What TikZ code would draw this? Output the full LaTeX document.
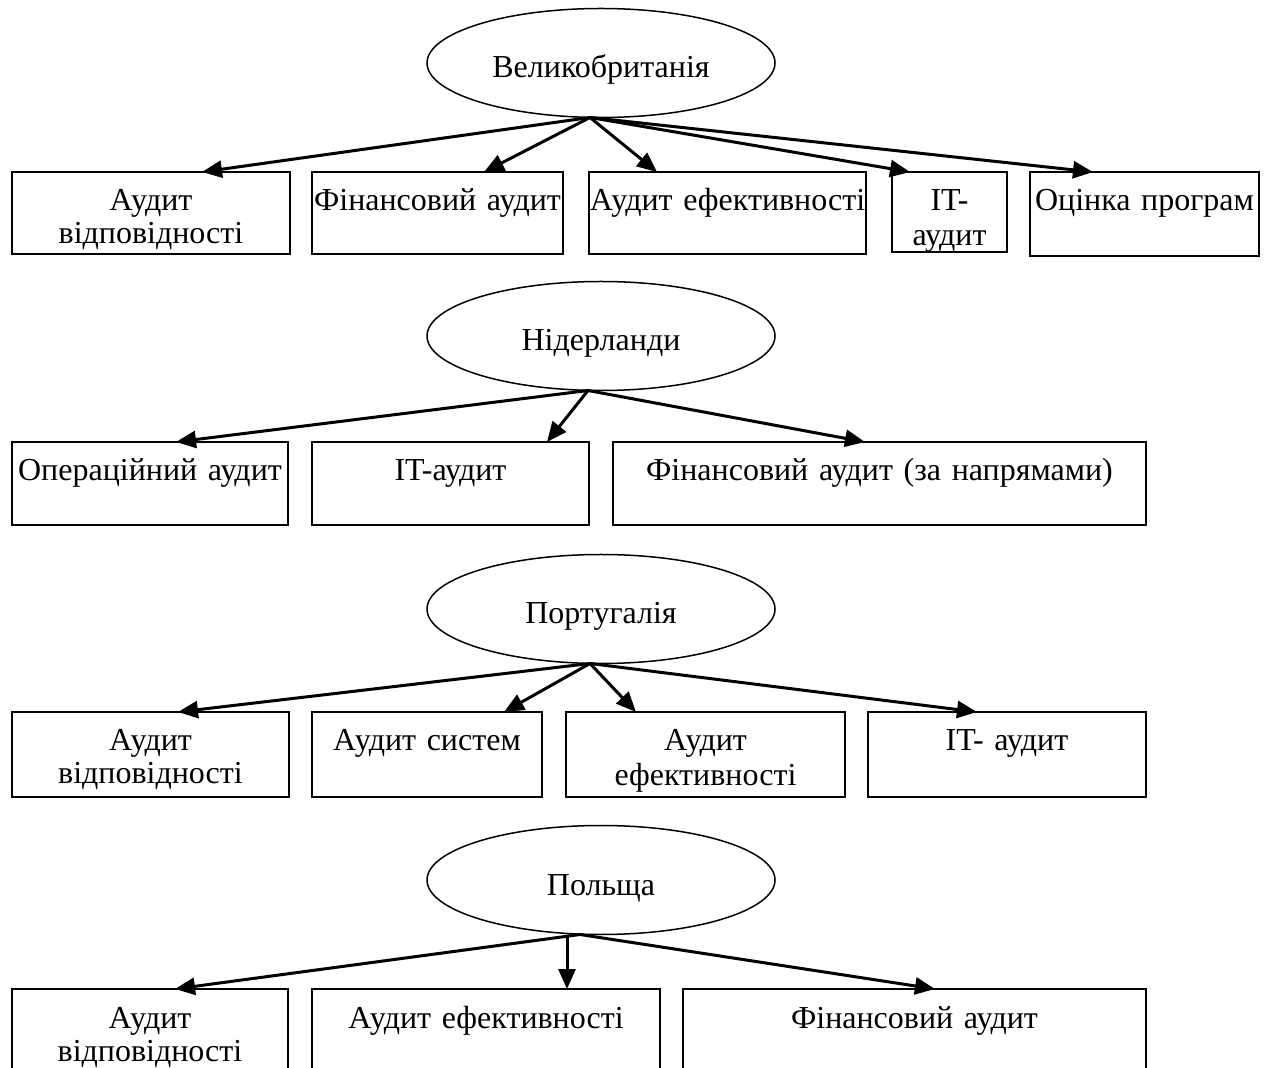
\documentclass[tikz,border=0pt]{standalone}
\usepackage{fontspec}
\setmainfont{Liberation Serif}
\usetikzlibrary{shapes.geometric,arrows.meta,calc}
\newcommand\myfs{\fontsize{16pt}{16.5pt}\selectfont}
\tikzset{
  bx/.style={draw, line width=0.75pt, rectangle, anchor=north west, inner sep=0pt,
    outer sep=0pt, align=center, text height=19.5pt, text depth=21.5pt, font=\myfs},
  el/.style={draw, line width=0.75pt, ellipse, inner sep=0pt, outer sep=0pt,
    minimum width=174pt, minimum height=54.5pt, text height=15pt, text depth=0pt, font=\myfs},
  arr/.style={line width=1.5pt, -{Triangle[length=10pt,width=8.5pt]}}
}
\begin{document}
\begin{tikzpicture}[x=0.5pt,y=-0.5pt]
\clip (0,0) rectangle (1269,1068);
\fill[white] (0,0) rectangle (1269,1068);
% ---- Section 1
\node[el] (e1) at (601,63) {Великобританія};
\coordinate (o1) at ($(e1.south)+(-11,0)$);
\node[bx, text width=139pt] (b11) at (12,172) {Аудит\\відповідності};
\node[bx, text width=125.5pt] (b12) at (312,172) {Фінансовий~аудит};
\node[bx, text width=138.5pt] (b13) at (589,172) {Аудит~ефективності};
\node[bx, text width=57.5pt, text height=19.5pt, text depth=20.5pt] (b14) at (892,172) {IT-\\[1pt]аудит};
\node[bx, text width=114.5pt, text depth=22.5pt] (b15) at (1030,172) {Оцінка~програм};
\draw[arr] (o1) -- ($(b11.north west)+(190,0)$);
\draw[arr] (o1) -- ($(b12.north west)+(172,0)$);
\draw[arr] (o1) -- ($(b13.north west)+(68,0)$);
\draw[arr] (o1) -- ($(b14.north west)+(18,0)$);
\draw[arr] (o1) -- ($(b15.north west)+(63,0)$);
% ---- Section 2
\node[el] (e2) at (601,336) {Нідерланди};
\coordinate (o2) at ($(e2.south)+(-13,0)$);
\node[bx, text width=138pt, text depth=22pt] (b21) at (12,442) {Операційний~аудит};
\node[bx, text width=138.5pt, text depth=22pt] (b22) at (312,442) {IT-аудит};
\node[bx, text width=266.5pt, text depth=22pt] (b23) at (613,442) {Фінансовий аудит (за напрямами)};
\draw[arr] (o2) -- ($(b21.north west)+(164,0)$);
\draw[arr] (o2) -- ($(b22.north west)+(235,0)$);
\draw[arr] (o2) -- ($(b23.north west)+(252,0)$);
% ---- Section 3
\node[el] (e3) at (601,609) {Португалія};
\coordinate (o3) at ($(e3.south)+(-11,0)$);
\node[bx, text width=138.5pt, text depth=23pt] (b31) at (12,712) {Аудит\\відповідності};
\node[bx, text width=115pt, text depth=23pt] (b32) at (312,712) {Аудит~систем};
\node[bx, text width=139.5pt, text depth=23pt] (b33) at (566,712) {Аудит\\[1pt]ефективності};
\node[bx, text width=139pt, text depth=23pt] (b34) at (868,712) {IT- аудит};
\draw[arr] (o3) -- ($(b31.north west)+(166,0)$);
\draw[arr] (o3) -- ($(b32.north west)+(192,0)$);
\draw[arr] (o3) -- ($(b33.north west)+(70,0)$);
\draw[arr] (o3) -- ($(b34.north west)+(109,0)$);
% ---- Section 4
\node[el] (e4) at (601,880) {Польща};
\coordinate (o4) at ($(e4.south)+(-21,0)$);
\coordinate (o4v) at ($(e4.south)+(-34,0)$);
\node[bx, text width=138pt, text depth=40pt] (b41) at (12,989) {Аудит\\відповідності};
\node[bx, text width=174pt, text depth=40pt] (b42) at (312,989) {Аудит~ефективності};
\node[bx, text width=231.5pt, text depth=40pt] (b43) at (683,989) {Фінансовий~аудит};
\draw[arr] (o4) -- ($(b41.north west)+(163,0)$);
\draw[arr] (o4v) -- (o4v |- b42.north);
\draw[arr] (o4) -- ($(b43.north west)+(252,0)$);
\end{tikzpicture}
\end{document}
